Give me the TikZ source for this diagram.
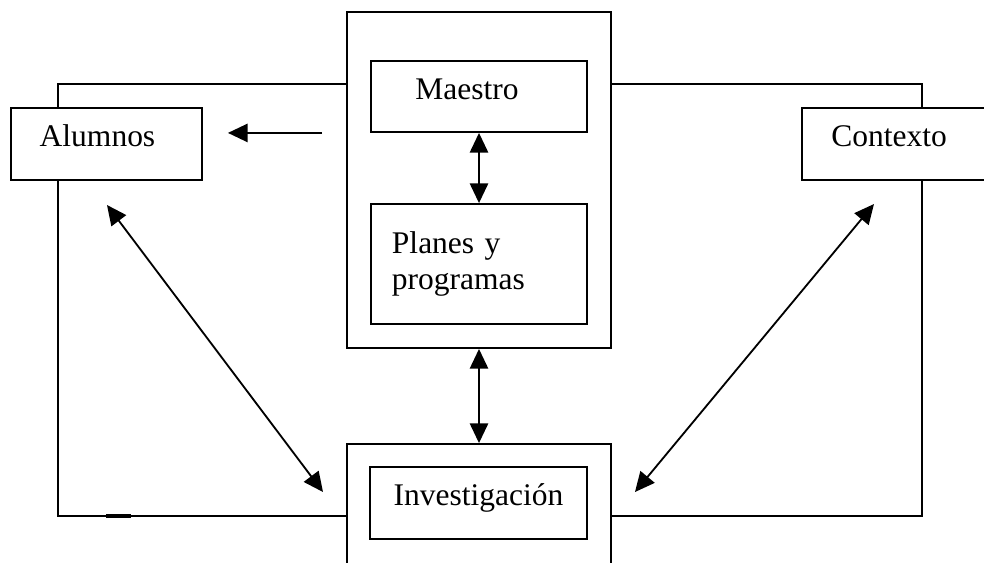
\documentclass[tikz,border=0pt]{standalone}
\usepackage{fontspec}
\setmainfont{Liberation Serif}
\usetikzlibrary{arrows.meta, calc}
\tikzset{
	tri/.tip={Triangle[length=14pt, width=13pt]},
	linea/.style={line width=1.3pt},
	% boxes with one line of text
	caja/.style={linea, draw, fill=white, inner sep=0pt, text height=0.68em, text depth=0.32em},
	% big frames round the central boxes
	marco/.style={linea, draw, fill=white},
	flecha/.style={linea, -tri},
	doble/.style={linea, tri-tri}
}
\newcommand{\corre}[1]{\rule{#1}{0pt}}

\begin{document}
\begin{tikzpicture}[x=0.025cm, y=-0.025cm, font=\fontsize{22.4}{26.2}\selectfont]
		\path[use as bounding box, clip] (0,0) rectangle (984,562);
		
		% Outer frame
		\coordinate (NO) at (58,84);
		\coordinate (SO) at (58,516);
		\coordinate (NE) at (922,84);
		\coordinate (SE) at (922,516);
		
		% Central frames
		\node[marco, minimum width=6.6cm, minimum height=8.4cm] (marco) at (479,180) {};
		\node[marco, minimum width=6.6cm, minimum height=5cm] (marcoinv) at (479,544) {};
		
		\draw[linea] (marco.west |- NO) -- (NO) -- (SO) -- (marcoinv.west |- SO);
		\draw[linea] (marco.east |- NE) -- (NE) -- (SE) -- (marcoinv.east |- SE);
		\draw[line width=2.6pt] (106,516) -- (131,516);
		
		% Boxes
		\node[caja, minimum width=5.4cm, minimum height=1.775cm] (maestro) at (479,96.5) {Maestro\corre{0.6cm}};
		\node[linea, draw, fill=white, minimum width=5.4cm, minimum height=3cm, text width=4.35cm, align=left, inner sep=0pt] (planes) at (479,264) {Planes y\\programas\\[-0.3cm]};
		\node[caja, minimum width=5.425cm, minimum height=1.8cm] (investigacion) at (478.5,503) {Investigación};
		\node[caja, minimum width=4.775cm, minimum height=1.8cm] (alumnos) at (106.5,144) {Alumnos\corre{0.45cm}};
		\node[caja, minimum width=4.65cm, minimum height=1.8cm] (contexto) at (895,144) {Contexto\corre{0.3cm}};
		
		% Free ends of the diagonal arrows
		\coordinate (alu) at (107,205);
		\coordinate (invalu) at (323,492);
		\coordinate (ctx) at (874,204);
		\coordinate (invctx) at (635,492);
		
		% Arrows
		\draw[flecha, shorten <=0.6cm, shorten >=0.625cm] (marco.west |- maestro.south) -- (alumnos.east |- maestro.south);
		\draw[doble] (maestro) -- (planes);
		\draw[doble] (marco) -- (marcoinv);
		\draw[doble] (alu) -- (invalu);
		\draw[doble] (ctx) -- (invctx);
	\end{tikzpicture}
\end{document}
